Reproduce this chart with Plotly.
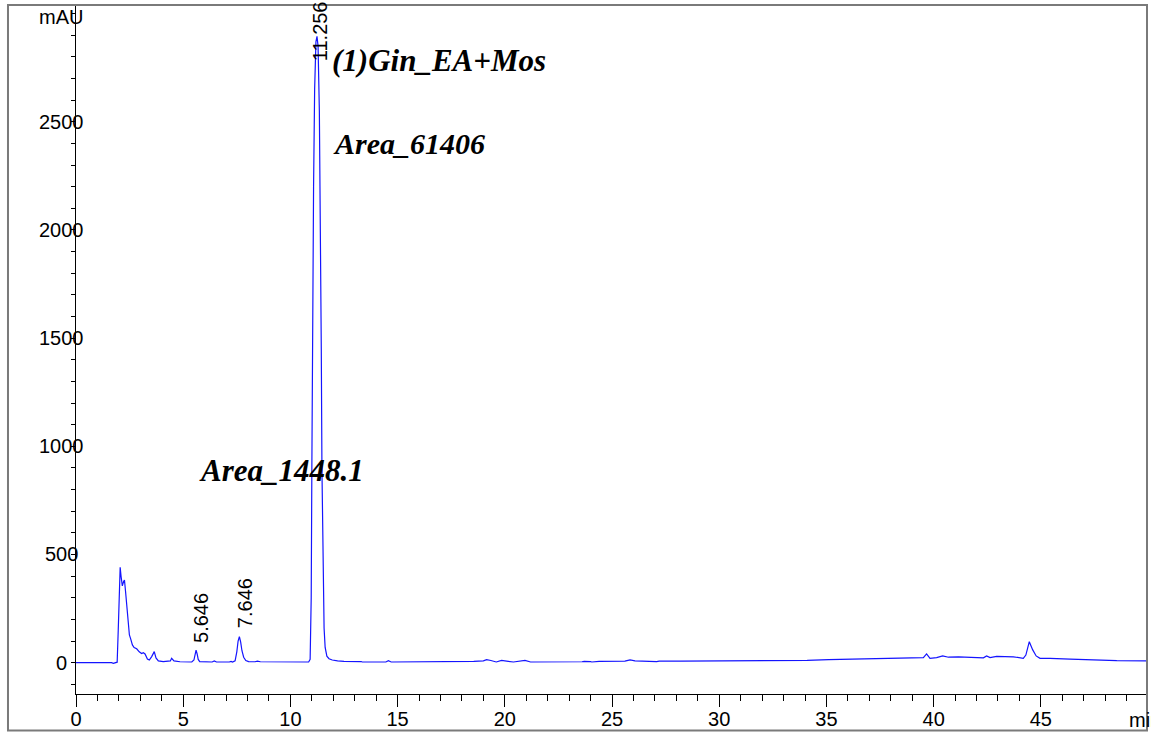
import plotly.graph_objects as go

# Retention time (min) and absorbance (mAU)
time_min = [0.00, 1.50, 1.59, 1.66, 1.74, 1.85, 1.92, 1.97, 2.02, 2.06, 2.10, 2.16, 2.22, 2.26,
            2.31, 2.37, 2.43, 2.49, 2.55, 2.63, 2.71, 2.83, 2.95, 3.06, 3.14, 3.22, 3.33, 3.42,
            3.53, 3.65, 3.73, 3.84, 4.07, 4.30, 4.40, 4.46, 4.57, 4.85, 5.40, 5.50, 5.56, 5.60,
            5.65, 5.70, 5.77, 6.00, 6.35, 6.45, 6.55, 7.15, 7.23, 7.30, 7.42, 7.50, 7.56, 7.62,
            7.68, 7.74, 7.82, 7.92, 8.05, 8.35, 8.46, 8.60, 10.85, 10.92, 10.97, 11.00, 11.04,
            11.08, 11.13, 11.19, 11.24, 11.29, 11.35, 11.40, 11.44, 11.47, 11.52, 11.57, 11.62,
            11.70, 11.80, 11.95, 12.20, 12.50, 13.30, 13.35, 14.45, 14.57, 14.70, 18.45, 18.55,
            19.00, 19.15, 19.35, 19.60, 19.85, 20.10, 20.40, 20.94, 21.20, 23.60, 23.70, 24.00,
            24.05, 24.40, 25.60, 25.84, 26.07, 27.08, 27.20, 28.20, 31.40, 34.10, 35.10, 35.86,
            36.10, 37.60, 38.90, 39.52, 39.67, 39.83, 40.14, 40.42, 40.69, 41.16, 42.32, 42.47,
            42.63, 42.94, 43.72, 44.18, 44.30, 44.46, 44.62, 44.78, 44.96, 45.43, 46.36, 47.40,
            48.54, 49.95]
absorbance_mAU = [0, 0, 3, 0, -3, -2, 2, 150, 380, 441, 400, 355, 375, 382,
                  330, 270, 190, 128, 110, 82, 70, 64, 50, 42, 46, 40, 17, 12,
                  28, 51, 22, 8, 5, 5, 8, 20, 8, 4, 3, 12, 45, 58,
                  40, 15, 5, 3, 3, 8, 3, 3, 6, 3, 8, 50, 100, 120,
                  95, 55, 25, 10, 5, 4, 7, 4, 3, 15, 300, 900, 1700,
                  2200, 2650, 2870, 2895, 2850, 2550, 2100, 1450, 900, 400, 160, 70,
                  30, 18, 12, 8, 6, 5, 3, 3, 9, 3, 3, 6,
                  8, 14, 10, 3, 10, 8, 3, 10, 3, 4, 6, 5,
                  3, 6, 7, 13, 8, 5, 7, 7, 8, 10, 14, 16,
                  15, 19, 22, 23, 40, 20, 23, 31, 25, 27, 22, 31,
                  23, 29, 27, 20, 35, 97, 59, 31, 20, 20, 16, 12,
                  9, 8]

# Labelled peaks
peak_rt = [5.646, 7.646, 11.256]
peak_labels = ["5.646", "7.646", "11.256"]

# Axis tick labels
y_tick_values = [0, 500, 1000, 1500, 2000, 2500]
y_tick_labels = ["0", "500", "1000", "1500", "2000", "2500"]
x_tick_values = [0, 5, 10, 15, 20, 25, 30, 35, 40, 45]

sans = "Liberation Sans, Arial, sans-serif"
serif = "Liberation Serif, Times New Roman, serif"

fig = go.Figure()
fig.add_trace(go.Scatter(x=time_min, y=absorbance_mAU, mode="lines",
                         line=dict(color="#1414ff", width=1.2), hoverinfo="skip",
                         showlegend=False))

# peak retention-time labels (rotated)
label_pos = {"5.646": (5.86, 80), "7.646": (7.88, 150), "11.256": (11.38, 2771)}
for rt, lab in zip(peak_rt, peak_labels):
    px, py = label_pos[lab]
    fig.add_annotation(x=px, y=py, xref="x", yref="y", text=lab, showarrow=False,
                       textangle=-90, xanchor="center", yanchor="bottom",
                       font=dict(family=sans, size=20, color="black"))

# y tick labels (centered under the axis line, as in the original)
for v, t in zip(y_tick_values, y_tick_labels):
    fig.add_annotation(x=-0.0131, y=v, xref="paper", yref="y", text=t, showarrow=False,
                       xanchor="center", yanchor="middle",
                       font=dict(family=sans, size=20, color="black"))

# unit labels
fig.add_annotation(x=-0.036, y=0.983, xref="paper", yref="paper", text="mAU", showarrow=False,
                   xanchor="left", yanchor="middle", font=dict(family=sans, size=20, color="black"))
fig.add_annotation(x=0.9813, y=-0.038, xref="paper", yref="paper", text="min", showarrow=False,
                   xanchor="left", yanchor="middle", font=dict(family=sans, size=20, color="black"))

# text notes
fig.add_annotation(x=11.85, y=2785, xref="x", yref="y", text="<b><i>(1)Gin_EA+Mos</i></b>",
                   showarrow=False, xanchor="left", yanchor="middle",
                   font=dict(family=serif, size=31, color="black"))
fig.add_annotation(x=11.90, y=2401, xref="x", yref="y", text="<b><i>Area_61406</i></b>",
                   showarrow=False, xanchor="left", yanchor="middle",
                   font=dict(family=serif, size=30, color="black"))
fig.add_annotation(x=5.62, y=886, xref="x", yref="y", text="<b><i>Area_1448.1</i></b>",
                   showarrow=False, xanchor="left", yanchor="middle",
                   font=dict(family=serif, size=31, color="black"))

# outer frame
fig.add_shape(type="rect", xref="paper", yref="paper", x0=-0.0635, x1=1.0, y0=-0.053, y1=1.0,
              line=dict(color="#7a7a7a", width=2), fillcolor="rgba(0,0,0,0)", layer="above")

fig.update_layout(
    width=1151, height=733,
    margin=dict(l=76, r=4, t=5, b=39, autoexpand=False),
    paper_bgcolor="white", plot_bgcolor="white",
    showlegend=False,
    xaxis=dict(range=[0, 49.95], showgrid=False, zeroline=False, showline=True, automargin=False,
               linecolor="black", linewidth=1, ticks="outside", ticklen=12, tickcolor="black",
               ticklabelstandoff=-5,
               tickvals=x_tick_values, tickfont=dict(family=sans, size=20, color="black"),
               minor=dict(dtick=1, tick0=0, ticks="outside", ticklen=6, tickcolor="black")),
    yaxis=dict(range=[-145, 3040], showgrid=False, zeroline=False, showline=True, automargin=False,
               linecolor="black", linewidth=1, ticks="outside", ticklen=4, tickcolor="black",
               tickvals=y_tick_values, showticklabels=False,
               minor=dict(dtick=100, tick0=0, ticks="outside", ticklen=4, tickcolor="black")),
)

fig.write_html("out.html")
